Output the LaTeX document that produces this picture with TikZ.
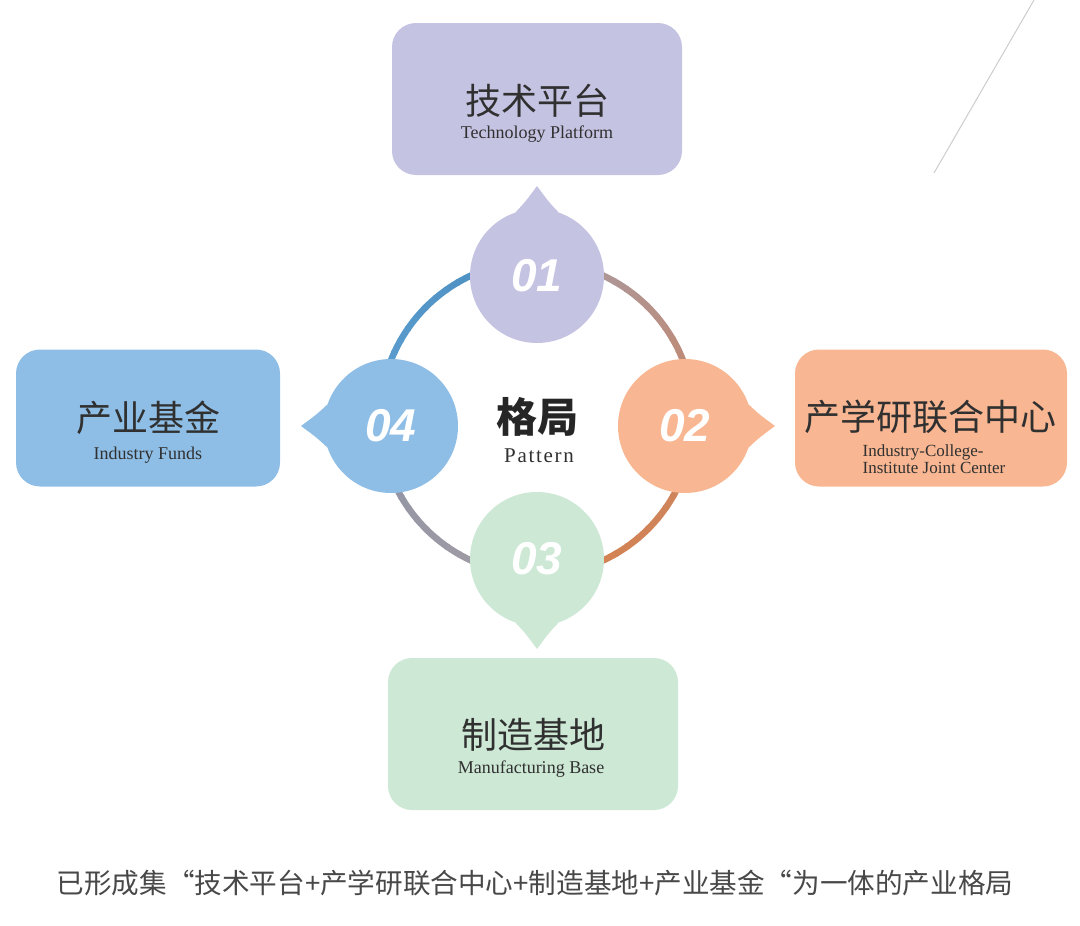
\documentclass[tikz,border=0pt]{standalone}
\usepackage{fontspec}
\setmainfont{Liberation Serif}
\newfontfamily\cjk{Noto Sans CJK SC}
\newfontfamily\numfont{Liberation Sans}
\definecolor{lavender}{HTML}{C5C3E2}
\definecolor{peach}{HTML}{F8B792}
\definecolor{mint}{HTML}{CDE8D5}
\definecolor{sky}{HTML}{8EBEE6}
\definecolor{textgray}{HTML}{303030}
\definecolor{capgray}{HTML}{484848}
\definecolor{ringA}{HTML}{C4866C}
\definecolor{ringB}{HTML}{A69CA6}
\definecolor{ringC}{HTML}{4A8DBF}
\definecolor{ringD}{HTML}{5C9FD0}
\definecolor{ringE}{HTML}{8F94A6}
\definecolor{ringF}{HTML}{A49CA4}
\definecolor{ringG}{HTML}{D6814F}
\definecolor{ringH}{HTML}{CB8660}
\begin{document}
\begin{tikzpicture}[x=1pt,y=1pt,
  box node/.style={rounded corners=24pt,inner sep=0pt,minimum width=290pt,minimum height=152pt},
  num node/.style={circle,inner sep=0pt,minimum size=134pt,text=white,font=\numfont\fontsize{46}{46}\selectfont\bfseries\itshape},
  cn text/.style={inner sep=0pt,text=textgray,font=\cjk\fontsize{36}{36}\selectfont},
  en text/.style={inner sep=0pt,text=textgray,font=\fontsize{18}{18}\selectfont},
  ring arc/.style={line width=6.5pt}]
  \useasboundingbox (0,0) rectangle (1080,-926);
  % thin diagonal line
  \coordinate (d1) at (1034,0);
  \coordinate (d2) at (934,-173);
  \draw[black!20,line width=1pt] (d1) -- (d2);
  % ring
  \coordinate (o) at (537,-418);
  \foreach \q/\ca/\cb in {0/ringA/ringB,90/ringC/ringD,180/ringE/ringF,270/ringG/ringH}{
    \foreach \i in {0,...,17}{
      \pgfmathtruncatemacro\p{100-\i*100/17}
      \pgfmathsetmacro\a{\q+\i*5}
      \draw[ring arc,\ca!\p!\cb] ([shift={(\a:157)}]o) arc[start angle=\a,end angle=\a+5.6,radius=157];
    }
  }
  % boxes
  \node[box node,fill=lavender] (b01) at (537,-99) {};
  \node[box node,fill=peach,minimum width=272pt,minimum height=137pt] (b02) at (931,-418) {};
  \node[box node,fill=mint] (b03) at (533,-734) {};
  \node[box node,fill=sky,minimum width=264pt,minimum height=137pt] (b04) at (148,-418) {};
  \node[cn text] (t01) at (537,-101) {技术平台};
  \node[en text] (e01) at (537,-134) {Technology Platform};
  \node[cn text] (t02) at (930,-417) {产学研联合中心};
  \node[en text,font=\fontsize{17}{17.5}\selectfont,align=left] (e02) at (934,-459) {Industry-College-\\Institute Joint Center};
  \node[cn text] (t03) at (533,-735) {制造基地};
  \node[en text] (e03) at (531,-769) {Manufacturing Base};
  \node[cn text] (t04) at (148,-418) {产业基金};
  \node[en text] (e04) at (148,-455) {Industry Funds};
  % number circles
  \node[num node,fill=lavender] (n01) at (537,-276) {01};
  \node[num node,fill=peach] (n02) at (685,-426) {02};
  \node[num node,fill=mint] (n03) at (537,-559) {03};
  \node[num node,fill=sky] (n04) at (391,-426) {04};
  \foreach \n/\ang/\col in {n01/90/lavender,n02/0/peach,n03/-90/mint,n04/180/sky}
    \fill[\col] ([shift={(\ang+19:67)}]\n.center) .. controls ([shift={(\ang+9:75)}]\n.center) .. ([shift={(\ang:90)}]\n.center)
      .. controls ([shift={(\ang-9:75)}]\n.center) .. ([shift={(\ang-19:67)}]\n.center) -- cycle;
  % centre
  \node[inner sep=0pt,text=black!85,font=\cjk\bfseries\fontsize{41}{41}\selectfont] (gj) at (537,-417) {格局};
  \node[inner sep=0pt,text=textgray,font=\addfontfeatures{LetterSpace=8}\fontsize{21}{21}\selectfont] (pt) at (539,-456) {Pattern};
  % caption
  \node[inner sep=0pt,text=capgray,font=\cjk\fontsize{27.6}{27.6}\selectfont] (cap) at (535,-883) {已形成集“技术平台+产学研联合中心+制造基地+产业基金“为一体的产业格局};
\end{tikzpicture}
\end{document}
